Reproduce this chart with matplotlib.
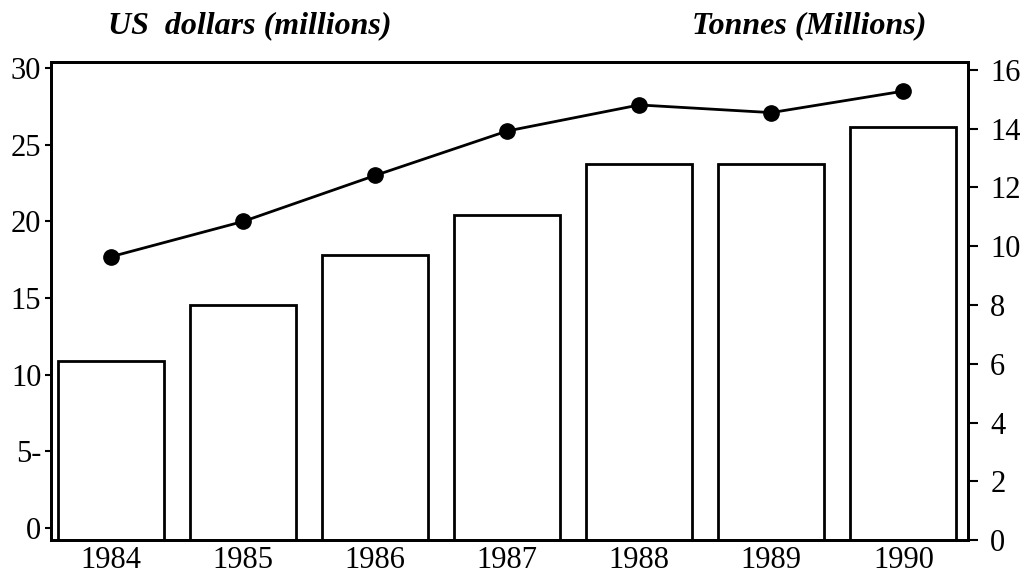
import matplotlib.pyplot as plt
import numpy as np

# данные
years = ['1984', '1985', '1986', '1987', '1988', '1989', '1990']
tonnes = [6.1, 8.0, 9.7, 11.05, 12.8, 12.8, 14.05]        # столбцы, правая ось
dollars = [17.7, 20.0, 23.0, 25.9, 27.6, 27.1, 28.5]     # линия, левая ось
left_ticks = [0, 5, 10, 15, 20, 25, 30]
left_labels = ['0', '5-', '10', '15', '20', '25', '30']
right_ticks = [0, 2, 4, 6, 8, 10, 12, 14, 16]

plt.rcParams['font.family'] = ['Liberation Serif', 'DejaVu Serif']

fig = plt.figure(figsize=(10.32, 5.78), dpi=100)
ax = fig.add_axes([0.0494, 0.0657, 0.8886, 0.8270])
x = np.arange(len(years))

# левая ось - доллары (линия)
ax.set_xlim(-0.455, 6.49)
ax.set_ylim(-0.78, 30.4)
ax.set_xticks(x)
ax.set_xticklabels(years)
ax.set_yticks(left_ticks)
ax.set_yticklabels(left_labels)
ax.tick_params(axis='x', length=0, pad=4, labelsize=22)
ax.tick_params(axis='y', length=4, width=1.5, pad=3, labelsize=22)
for s in ax.spines.values():
    s.set_linewidth(2)

# правая ось - тонны (столбцы)
ax2 = ax.twinx()
ax2.bar(x, tonnes, width=0.80, color='white', edgecolor='black', linewidth=2, zorder=2)
ax2.set_ylim(0, 16.27)
ax2.set_yticks(right_ticks)
ax2.tick_params(axis='y', length=7, width=1.5, pad=9, labelsize=22)
for s in ax2.spines.values():
    s.set_linewidth(2)

# линию рисуем поверх столбцов
ax3 = ax.twinx()
ax3.set_ylim(ax.get_ylim())
ax3.axis('off')
ax3.plot(x, dollars, color='black', linewidth=2, marker='o', markersize=11, zorder=3)

fig.text(0.242, 0.955, 'US  dollars (millions)', ha='center', va='center',
         fontsize=23, fontweight='bold', fontstyle='italic')
fig.text(0.784, 0.955, 'Tonnes (Millions)', ha='center', va='center',
         fontsize=23, fontweight='bold', fontstyle='italic')

fig.savefig('out.png', dpi=100)
